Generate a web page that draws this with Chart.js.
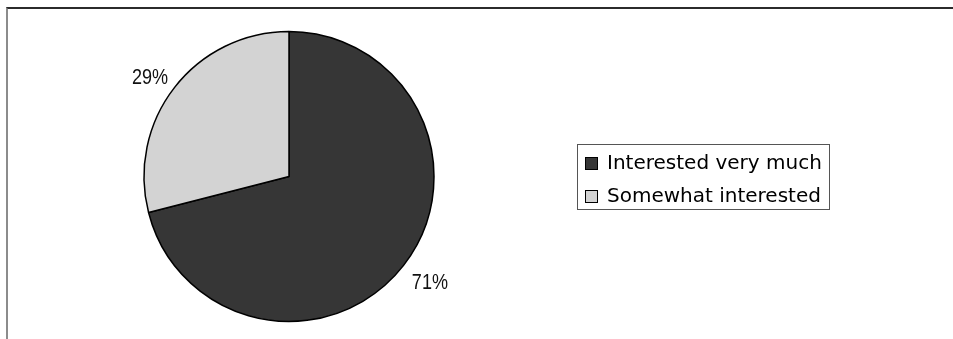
<!DOCTYPE html>
<html>
<head>
<meta charset="utf-8">
<script src="https://cdn.jsdelivr.net/npm/chart.js@4"></script>
<style>
  html, body { margin: 0; padding: 0; background: #fff; overflow: hidden; }
  #wrap { position: relative; width: 953px; height: 339px; }
  /* outer frame, only its top and left edges fall inside the view */
  #frame {
    position: absolute; left: 6px; top: 7px; width: 2000px; height: 2000px;
    border-top: 2px solid #2b2b2b; border-left: 2px solid #8c8c8c;
  }
  canvas { position: absolute; left: 0; top: 0; }
</style>
</head>
<body>
<div id="wrap">
  <div id="frame"></div>
  <canvas id="pie" width="953" height="339"></canvas>
</div>
<script>
// categories and their shares (percent)
const categories = ['Interested very much', 'Somewhat interested'];
const shares = [71, 29];
const sliceColors = ['#363636', '#d3d3d3'];

// percent labels just outside each slice, plus a boxed legend on the right
const pieExtras = {
  id: 'pieExtras',
  afterDraw(chart) {
    const ctx = chart.ctx;
    const meta = chart.getDatasetMeta(0);
    const total = shares.reduce((a, b) => a + b, 0);
    const squeeze = 0.82; // narrow the digits a bit

    ctx.save();
    ctx.fillStyle = '#111';
    ctx.font = "22px 'Liberation Sans'";
    ctx.textAlign = 'center';
    ctx.textBaseline = 'middle';
    meta.data.forEach((arc, i) => {
      const mid = (arc.startAngle + arc.endAngle) / 2;
      const cx = Math.cos(mid), cy = Math.sin(mid);
      const txt = Math.round(shares[i] / total * 100) + '%';
      const w = ctx.measureText(txt).width * squeeze;
      const r = arc.outerRadius + 14;
      const x = arc.x + cx * r + cx * w / 2;
      const y = arc.y + cy * r + cy * 8.5;
      ctx.save();
      ctx.translate(x + 1, y + 4);
      ctx.scale(squeeze, 1);
      ctx.fillText(txt, 0, 0);
      ctx.restore();
    });
    ctx.restore();

    // legend
    ctx.save();
    ctx.strokeStyle = '#555';
    ctx.lineWidth = 1;
    ctx.strokeRect(577.5, 144.5, 252, 65);
    ctx.font = "20px 'DejaVu Sans'";
    ctx.textBaseline = 'middle';
    categories.forEach((name, i) => {
      const y = 157 + i * 33;
      ctx.fillStyle = sliceColors[i];
      ctx.fillRect(585, y, 13, 13);
      ctx.strokeStyle = '#000';
      ctx.strokeRect(585.5, y + 0.5, 12, 12);
      ctx.fillStyle = '#000';
      ctx.fillText(name, 607, y + 7);
    });
    ctx.restore();
  }
};

new Chart(document.getElementById('pie'), {
  type: 'pie',
  data: {
    labels: categories,
    datasets: [{
      data: shares,
      backgroundColor: sliceColors,
      borderColor: '#000',
      borderWidth: 1.5,
      hoverOffset: 0,
      radius: 145
    }]
  },
  options: {
    responsive: false,
    animation: false,
    events: [],
    layout: { padding: { left: 0, right: 375, top: 32, bottom: 18 } },
    plugins: {
      legend: { display: false },
      tooltip: { enabled: false }
    }
  },
  plugins: [pieExtras]
});
</script>
</body>
</html>
